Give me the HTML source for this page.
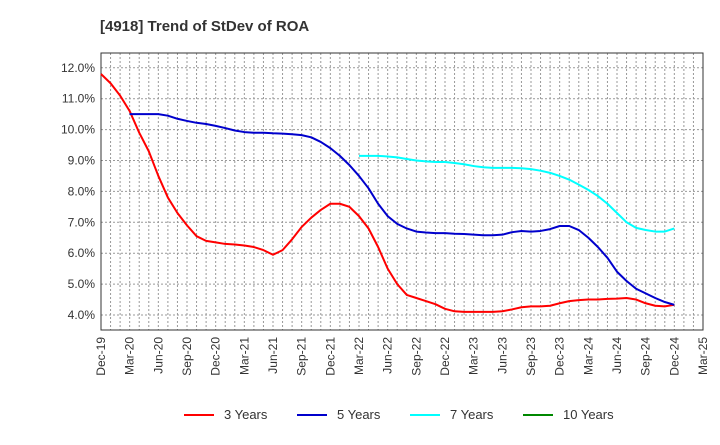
<!DOCTYPE html>
<html><head><meta charset="utf-8"><style>body{margin:0;background:#fff}svg{font-family:"Liberation Sans",sans-serif}</style></head>
<body>
<svg id="c" width="720" height="440">
<text x="100" y="31" font-size="15" font-weight="bold" fill="#333">[4918]  Trend of StDev of ROA</text>
<g id="grid"></g><g id="axes"></g><g id="lines"></g><g id="legend"></g>
</svg>
<script>
const yTicks=[4,5,6,7,8,9,10,11,12];
const xLabels=["Dec-19","Mar-20","Jun-20","Sep-20","Dec-20","Mar-21","Jun-21","Sep-21","Dec-21","Mar-22","Jun-22","Sep-22","Dec-22","Mar-23","Jun-23","Sep-23","Dec-23","Mar-24","Jun-24","Sep-24","Dec-24","Mar-25"];
const s3=[11.8,11.5,11.1,10.6,9.9,9.3,8.5,7.8,7.3,6.9,6.55,6.4,6.35,6.3,6.28,6.25,6.2,6.1,5.95,6.1,6.45,6.85,7.15,7.4,7.6,7.6,7.5,7.2,6.8,6.2,5.5,5.0,4.65,4.55,4.45,4.35,4.2,4.12,4.1,4.1,4.1,4.1,4.12,4.18,4.25,4.28,4.28,4.3,4.38,4.45,4.48,4.5,4.5,4.52,4.53,4.55,4.5,4.38,4.3,4.28,4.33];
const s5start=3;
const s5=[10.5,10.5,10.5,10.5,10.45,10.35,10.28,10.22,10.18,10.12,10.05,9.97,9.92,9.9,9.9,9.88,9.87,9.85,9.82,9.75,9.6,9.4,9.15,8.85,8.5,8.1,7.6,7.2,6.95,6.8,6.7,6.67,6.65,6.65,6.63,6.62,6.6,6.58,6.58,6.6,6.68,6.72,6.7,6.72,6.78,6.88,6.88,6.75,6.5,6.2,5.85,5.4,5.1,4.85,4.7,4.55,4.42,4.33];
const s7start=27;
const s7=[9.15,9.15,9.15,9.13,9.1,9.05,9.0,8.97,8.95,8.95,8.92,8.88,8.82,8.78,8.76,8.76,8.76,8.75,8.72,8.67,8.6,8.5,8.38,8.22,8.05,7.85,7.6,7.3,7.0,6.82,6.75,6.7,6.7,6.8];
const L=101,R=703,T=53,B=330;
const x=i=>L+i*(R-L)/63;
const y=v=>315-(v-4)*30.9;
const NS="http://www.w3.org/2000/svg";
function mk(p,t,a){const e=document.createElementNS(NS,t);for(const k in a)e.setAttribute(k,a[k]);document.getElementById(p).appendChild(e);return e;}
for(let m=1;m<63;m++){const e=mk('grid','line',{x1:x(m),x2:x(m),y1:T,y2:B,stroke:'#999','stroke-dasharray':'2,2','stroke-width':1});
}
yTicks.forEach(v=>{const e=mk('grid','line',{x1:L,x2:R,y1:y(v),y2:y(v),stroke:'#999','stroke-dasharray':'2,2'});

const t=mk('axes','text',{x:L-6,y:y(v)+4,'text-anchor':'end','font-size':12,fill:'#333'});t.textContent=v.toFixed(1)+'%';
});
xLabels.forEach((s,i)=>{const xx=x(i*3);const t=mk('axes','text',{x:0,y:0,'text-anchor':'end','font-size':12,fill:'#333',transform:`translate(${xx+4},${B+7}) rotate(-90)`});t.textContent=s;
});
const f=mk('axes','rect',{x:L,y:T,width:R-L,height:B-T,fill:'none',stroke:'#333','stroke-width':1});

function line(arr,st,col,name){const p=mk('lines','polyline',{points:arr.map((v,i)=>x(i+st)+','+y(v)).join(' '),fill:'none',stroke:col,'stroke-width':2,'stroke-linejoin':'round'});
}
line(s3,0,'#f00','series-3-years');line(s5,s5start,'#00c','series-5-years');line(s7,s7start,'#0ff','series-7-years');
const leg=[["3 Years","#f00"],["5 Years","#00c"],["7 Years","#0ff"],["10 Years","#080"]];
leg.forEach((d,i)=>{const lx=184+i*113;const l=mk('legend','line',{x1:lx,x2:lx+30,y1:415,y2:415,stroke:d[1],'stroke-width':2});

const t=mk('legend','text',{x:lx+40,y:419,'font-size':13,fill:'#333'});t.textContent=d[0];
});
</script>
</body></html>
